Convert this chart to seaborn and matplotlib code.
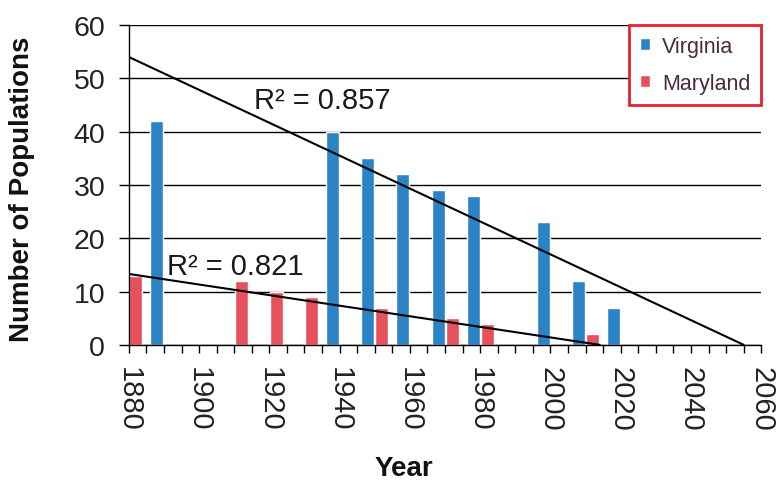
import matplotlib
matplotlib.use("Agg")
import matplotlib.pyplot as plt
import seaborn as sns
from matplotlib.ticker import MultipleLocator

# bar data
virginia_years = [1888, 1938, 1948, 1958, 1968, 1978, 1998, 2008, 2018]
virginia_counts = [42, 40, 35, 32, 29, 28, 23, 12, 7]
maryland_years = [1882, 1912, 1922, 1932, 1952, 1972, 1982, 2012]
maryland_counts = [13, 12, 10, 9, 7, 5, 4, 2]

# trendline end points as drawn in the picture
virginia_trend_years = [1880, 2055]
virginia_trend_values = [54, 0]
maryland_trend_years = [1880, 2014]
maryland_trend_values = [13.3, 0]

virginia_r2 = "R\u00b2 = 0.857"
maryland_r2 = "R\u00b2 = 0.821"

blue = "#2b84c6"
red = "#e5515d"

sns.set_theme(style="ticks")
plt.rcParams["font.family"] = ["Liberation Sans", "DejaVu Sans"]

fig, ax = plt.subplots(figsize=(7.76, 4.81), dpi=100)
fig.subplots_adjust(left=0.166, right=0.981, top=0.946, bottom=0.281)

sns.barplot(x=virginia_years, y=virginia_counts, native_scale=True, width=0.37,
            color=blue, saturation=1, errorbar=None, label="Virginia", ax=ax)
sns.barplot(x=maryland_years, y=maryland_counts, native_scale=True, width=0.37,
            color=red, saturation=1, errorbar=None, label="Maryland", ax=ax)

sns.lineplot(x=virginia_trend_years, y=virginia_trend_values, color="black", lw=1.5, ax=ax)
sns.lineplot(x=maryland_trend_years, y=maryland_trend_values, color="black", lw=1.5, ax=ax)

ax.text(1915.5, 46, virginia_r2, fontsize=21, color="#1a1a1a", va="center")
ax.text(1890.8, 14.8, maryland_r2, fontsize=21, color="#1a1a1a", va="center")

ax.set_xlim(1880, 2060)
ax.set_ylim(0, 60)
ax.xaxis.set_minor_locator(MultipleLocator(5))
ax.yaxis.set_major_locator(MultipleLocator(10))
ax.set_xticks(range(1880, 2061, 20))
ax.set_xticklabels([str(y) for y in range(1880, 2061, 20)], rotation=-90)

ax.tick_params(axis="x", which="both", length=6, width=1, color="black",
               labelsize=21, pad=9, labelcolor="#222222")
ax.tick_params(axis="y", length=7, width=1, color="black", labelsize=20.5,
               pad=10, labelcolor="#222222")

ax.yaxis.grid(True, color="black", lw=1)
ax.set_axisbelow(True)
sns.despine(ax=ax)
for s in ["left", "bottom"]:
    ax.spines[s].set_color("black")
    ax.spines[s].set_linewidth(1)

ax.set_ylabel("Number of Populations", fontsize=20, fontweight="bold", color="#111111")
ax.yaxis.set_label_coords(-0.148, 0.49)
ax.set_xlabel("Year", fontsize=20, fontweight="bold", color="#111111")
ax.xaxis.set_label_coords(0.435, -0.344)

leg = ax.legend(loc="upper right", bbox_to_anchor=(1.0, 1.0), borderaxespad=0,
                fontsize=15.5, handlelength=0.5, handleheight=0.5,
                handletextpad=0.55, labelspacing=0.75, fancybox=False,
                framealpha=1, borderpad=0.5)
leg.get_frame().set_edgecolor("#e8202f")
leg.get_frame().set_linewidth(2)
for t in leg.get_texts():
    t.set_color("#4a2a40")

plt.savefig("out.png", dpi=100)
